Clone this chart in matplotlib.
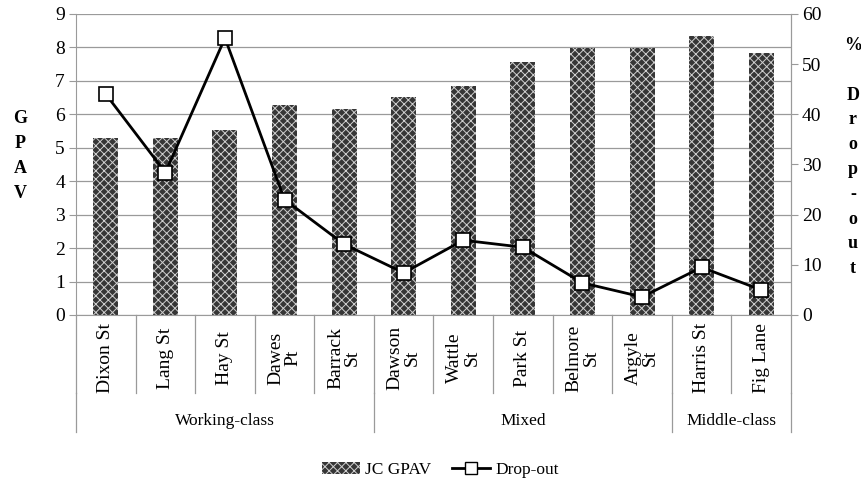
import matplotlib.pyplot as plt
import matplotlib.patches as mpatches
from matplotlib.lines import Line2D

plt.rcParams['font.family'] = 'Liberation Serif'
plt.rcParams['hatch.linewidth'] = 0.7

# Data
schools = ["Dixon St", "Lang St", "Hay St", "Dawes\nPt", "Barrack\nSt", "Dawson\nSt",
           "Wattle\nSt", "Park St", "Belmore\nSt", "Argyle\nSt", "Harris St", "Fig Lane"]
gpav = [5.3, 5.3, 5.52, 6.27, 6.15, 6.53, 6.85, 7.57, 7.98, 7.98, 8.34, 7.83]
dropout = [44.0, 28.4, 55.2, 23.0, 14.1, 8.4, 14.9, 13.5, 6.4, 3.6, 9.5, 5.0]
groups = ["Working-class", "Mixed", "Middle-class"]
group_sizes = [5, 5, 2]

grey = '#9a9a9a'
fig = plt.figure(figsize=(8.62, 4.82), dpi=100)
ax = fig.add_axes([0.0882, 0.3465, 0.8294, 0.6245])

x = list(range(len(schools)))
ax.bar(x, gpav, width=0.42, color='#363636', hatch='xxxx', edgecolor='#d0d0d0',
       linewidth=0, zorder=2)
ax.set_xlim(-0.5, len(schools) - 0.5)
ax.set_ylim(0, 9)
ax.set_yticks(range(0, 10))
ax.yaxis.grid(True, color=grey, linewidth=0.9, zorder=0)
ax.set_axisbelow(True)
ax.set_xticks([])
ax.spines['top'].set_visible(False)
for s in ['left', 'bottom', 'right']:
    ax.spines[s].set_color(grey)
ax.tick_params(axis='y', length=5, color=grey, labelsize=14, pad=3)

ax2 = ax.twinx()
ax2.plot(x, dropout, color='black', linewidth=2, marker='s', markersize=10,
         markerfacecolor='white', markeredgecolor='black', markeredgewidth=1.2, zorder=3)
ax2.set_ylim(0, 60)
ax2.set_yticks(range(0, 70, 10))
ax2.tick_params(axis='y', length=5, color=grey, labelsize=14, pad=3)
for s in ['top', 'left', 'bottom']:
    ax2.spines[s].set_visible(False)
ax2.spines['right'].set_color(grey)

# category axis below the plot
tr = ax.get_xaxis_transform()
for i in range(len(schools) + 1):
    ax.plot([i - 0.5, i - 0.5], [0, -0.259], transform=tr, color=grey, linewidth=0.9,
            clip_on=False)
for i, name in enumerate(schools):
    ax.text(i, -0.143, name, transform=tr, rotation=90, ha='center', va='center',
            fontsize=14, linespacing=1.0)

start = 0
for g, n in zip(groups, group_sizes):
    ax.plot([start - 0.5, start - 0.5], [-0.259, -0.389], transform=tr, color=grey,
            linewidth=0.9, clip_on=False)
    ax.text(start + (n - 1) / 2, -0.352, g, transform=tr, ha='center', va='center',
            fontsize=12.5)
    start += n
ax.plot([start - 0.5, start - 0.5], [-0.259, -0.389], transform=tr, color=grey,
        linewidth=0.9, clip_on=False)

# stacked axis titles
fig.text(20 / 862, 1 - 156 / 482, "G\nP\nA\nV", ha='center', va='center',
         fontsize=13, fontweight='bold', linespacing=1.6)
fig.text(853 / 862, 1 - 157 / 482, "%\n\nD\nr\no\np\n-\no\nu\nt", ha='center',
         va='center', fontsize=13, fontweight='bold', linespacing=1.6)

# legend
h1 = mpatches.Patch(facecolor='#363636', hatch='xxxx', edgecolor='#d0d0d0', linewidth=0)
h2 = Line2D([], [], color='black', linewidth=2, marker='s', markersize=9,
            markerfacecolor='white', markeredgecolor='black')
fig.legend([h1, h2], ["JC GPAV", "Drop-out"], loc='center', bbox_to_anchor=(0.511, 1 - 470 / 482),
           ncol=2, frameon=False, fontsize=12.5, handlelength=2.2, columnspacing=1.2,
           handletextpad=0.3)

fig.savefig('out.png', dpi=100)
